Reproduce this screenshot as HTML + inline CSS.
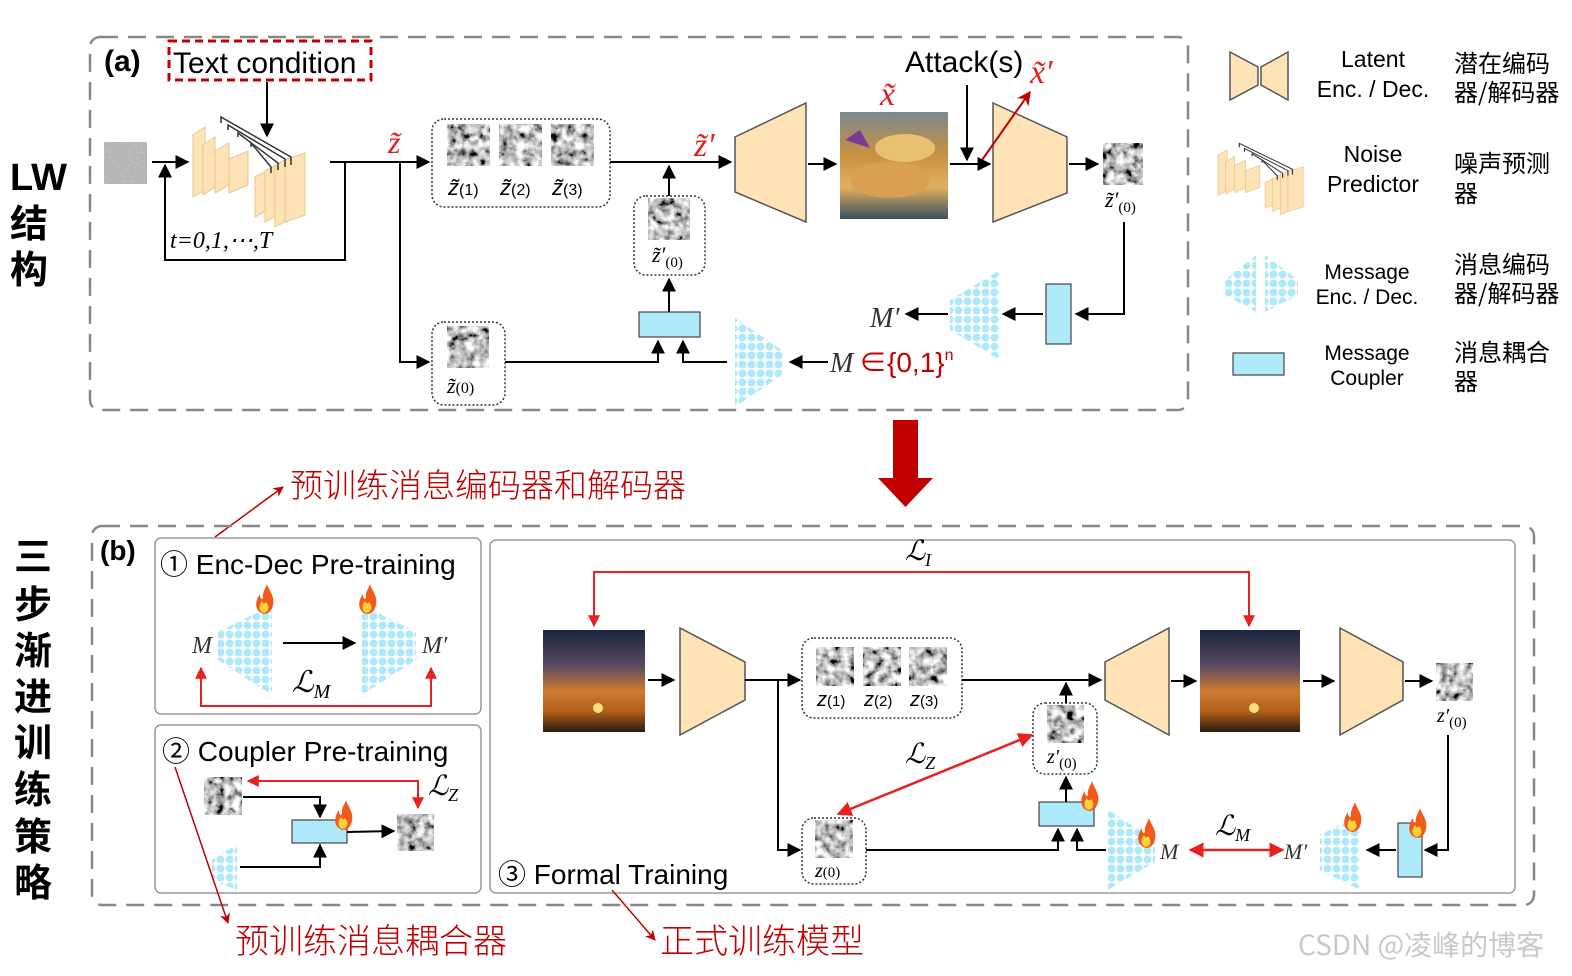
<!DOCTYPE html>
<html><head><meta charset="utf-8"><style>
html,body{margin:0;padding:0;background:#fff}
svg{display:block}
text{font-family:"Liberation Sans","Noto Sans CJK SC",sans-serif}
.it{font-family:"Liberation Serif","DejaVu Serif",serif;font-style:italic}
.cn{font-family:"Noto Sans CJK SC","WenQuanYi Zen Hei",sans-serif}
</style></head><body>
<svg width="1572" height="976" viewBox="0 0 1572 976" xmlns="http://www.w3.org/2000/svg">
<defs>
<marker id="ab" viewBox="0 0 10 10" refX="9" refY="5" markerWidth="7" markerHeight="7" orient="auto-start-reverse"><path d="M0,0 L10,5 L0,10 z" fill="#000"/></marker>
<marker id="ar" viewBox="0 0 10 10" refX="9" refY="5" markerWidth="6" markerHeight="6" orient="auto-start-reverse"><path d="M0,0 L10,5 L0,10 z" fill="#e82020"/></marker>
<marker id="ad" viewBox="0 0 10 10" refX="9" refY="5" markerWidth="7" markerHeight="7" orient="auto-start-reverse"><path d="M0,0 L10,5 L0,10 L3,5 z" fill="#c00000"/></marker>
<pattern id="dots" width="9" height="9" patternUnits="userSpaceOnUse"><circle cx="4.5" cy="4.5" r="4" fill="#aee8f9"/></pattern>
<filter id="nz" x="0" y="0" width="100%" height="100%"><feTurbulence type="fractalNoise" baseFrequency="0.12" numOctaves="3" seed="3"/><feColorMatrix type="matrix" values="0.33 0.33 0.33 0 0 0.33 0.33 0.33 0 0 0.33 0.33 0.33 0 0 0 0 0 0 1"/><feComponentTransfer><feFuncR type="linear" slope="3.5" intercept="-1.2"/><feFuncG type="linear" slope="3.5" intercept="-1.2"/><feFuncB type="linear" slope="3.5" intercept="-1.2"/></feComponentTransfer></filter>
<filter id="nz2" x="0" y="0" width="100%" height="100%"><feTurbulence type="fractalNoise" baseFrequency="0.5" numOctaves="1" seed="7"/><feColorMatrix type="matrix" values="0.33 0.33 0.33 0 0 0.33 0.33 0.33 0 0 0.33 0.33 0.33 0 0 0 0 0 0 1"/></filter>
<linearGradient id="sun" x1="0" y1="0" x2="0" y2="1"><stop offset="0" stop-color="#1b2540"/><stop offset="0.35" stop-color="#5a4a60"/><stop offset="0.6" stop-color="#d07a30"/><stop offset="0.8" stop-color="#b0601a"/><stop offset="1" stop-color="#2a1a10"/></linearGradient>
<linearGradient id="food" x1="0" y1="0" x2="0" y2="1"><stop offset="0" stop-color="#7a8a90"/><stop offset="0.4" stop-color="#c89040"/><stop offset="0.7" stop-color="#e0b060"/><stop offset="1" stop-color="#3a5060"/></linearGradient>
<g id="flame"><path d="M0,14 C-9,12 -10,2 -4,-6 C-4,-1 -2,0 -1,-2 C-2,-8 2,-12 3,-16 C5,-9 11,-4 9,5 C8,10 5,14 0,14 z" fill="#f05a1a"/><path d="M0,13 C-5,12 -6,6 -2,1 C-1,4 1,4 2,2 C5,5 6,11 0,13 z" fill="#ffd23a"/></g>
<g id="unet" fill="#fde3b5" stroke="#e8c88e" stroke-width="1">
<polygon points="0,20 12,12 12,75 0,82"/><polygon points="10,30 22,22 22,72 10,80"/><polygon points="22,36 36,28 36,70 22,78"/><polygon points="36,44 55,36 55,70 36,78"/>
<polygon points="62,62 75,55 75,95 62,102"/><polygon points="72,56 85,49 85,100 72,107"/><polygon points="82,50 96,43 96,105 82,112"/><polygon points="92,45 112,38 112,100 92,107"/>
<g fill="none" stroke="#333" stroke-width="1.5"><path d="M28,8 V2 L98,42 V50"/><path d="M35,15 V10 L92,44 V52"/><path d="M45,22 V18 L85,48 V55"/><path d="M58,32 V28 L78,52 V58"/></g>
</g>
</defs>

<text x="10" y="190" font-size="38" font-weight="bold">LW</text>
<text x="10" y="237" font-size="38" font-weight="bold" class="cn">结</text>
<text x="10" y="283" font-size="38" font-weight="bold" class="cn">构</text>
<g font-size="38" font-weight="bold" class="cn">
<text x="14" y="570">三</text><text x="14" y="618">步</text><text x="14" y="664">渐</text><text x="14" y="710">进</text><text x="14" y="756">训</text><text x="14" y="803">练</text><text x="14" y="850">策</text><text x="14" y="896">略</text>
</g>

<!-- (a) -->
<rect x="90" y="37" width="1098" height="373" rx="10" fill="none" stroke="#888" stroke-width="2.5" stroke-dasharray="18,10"/>
<text x="104" y="71" font-size="30" font-weight="bold">(a)</text>
<rect x="169" y="41" width="202" height="39" fill="none" stroke="#c00000" stroke-width="3" stroke-dasharray="8,5"/>
<text x="173" y="73" font-size="30">Text condition</text>
<line x1="267" y1="82" x2="267" y2="136" stroke="#000" stroke-width="2" marker-end="url(#ab)"/>
<rect x="104" y="142" width="43" height="42" fill="#999" filter="url(#nz2)" opacity="0.6"/>
<rect x="104" y="142" width="43" height="42" fill="#999" opacity="0.5"/>
<line x1="152" y1="162" x2="188" y2="162" stroke="#000" stroke-width="2" marker-end="url(#ab)"/>
<use href="#unet" x="193" y="115"/>
<polyline points="330,162 345,162 345,260 165,260 165,165" fill="none" stroke="#000" stroke-width="2" marker-end="url(#ab)"/>
<text x="170" y="248" font-size="24" class="it">t=0,1,⋯,T</text>
<line x1="345" y1="162" x2="429" y2="162" stroke="#000" stroke-width="2" marker-end="url(#ab)"/>
<text x="388" y="153" font-size="32" fill="#e02020" class="it">z̃</text>
<polyline points="400,162 400,362 429,362" fill="none" stroke="#000" stroke-width="2" marker-end="url(#ab)"/>
<rect x="432" y="119" width="178" height="88" rx="12" fill="none" stroke="#333" stroke-width="1.5" stroke-dasharray="2,2"/>
<rect x="447" y="124" width="43" height="42" fill="#777" filter="url(#nz)"/>
<rect x="499" y="124" width="43" height="42" fill="#555" filter="url(#nz)"/>
<rect x="551" y="124" width="43" height="42" fill="#666" filter="url(#nz)"/>
<g font-size="22" class="it"><text x="448" y="195">z̃<tspan font-size="16" font-style="normal">(1)</tspan></text><text x="500" y="195">z̃<tspan font-size="16" font-style="normal">(2)</tspan></text><text x="552" y="195">z̃<tspan font-size="16" font-style="normal">(3)</tspan></text></g>
<line x1="610" y1="162" x2="731" y2="162" stroke="#000" stroke-width="2" marker-end="url(#ab)"/>
<text x="694" y="156" font-size="34" fill="#e02020" class="it">z̃′</text>
<polygon points="735,137 806,103 806,222 735,192" fill="#fde3b5" stroke="#555" stroke-width="1.5"/>
<line x1="808" y1="164" x2="836" y2="164" stroke="#000" stroke-width="2" marker-end="url(#ab)"/>
<rect x="840" y="112" width="108" height="107" fill="url(#food)"/>
<ellipse cx="890" cy="180" rx="40" ry="18" fill="#d8a050"/><ellipse cx="905" cy="148" rx="30" ry="14" fill="#e8c070"/><path d="M845,140 l15,-10 l10,18 z" fill="#7a3a9a"/>
<text x="880" y="105" font-size="34" fill="#e02020" class="it">x̃</text>
<text x="905" y="72" font-size="30">Attack(s)</text>
<text x="1030" y="83" font-size="34" fill="#e02020" class="it">x̃′</text>
<line x1="967" y1="85" x2="967" y2="160" stroke="#000" stroke-width="2" marker-end="url(#ab)"/>
<line x1="950" y1="164" x2="990" y2="164" stroke="#000" stroke-width="2" marker-end="url(#ab)"/>
<polygon points="993,103 1067,137 1067,193 993,222" fill="#fde3b5" stroke="#555" stroke-width="1.5"/>
<line x1="982" y1="160" x2="1030" y2="92" stroke="#c00000" stroke-width="2" marker-end="url(#ad)"/>
<line x1="1069" y1="164" x2="1098" y2="164" stroke="#000" stroke-width="2" marker-end="url(#ab)"/>
<rect x="1103" y="143" width="40" height="42" fill="#aaa" filter="url(#nz)"/>
<text x="1105" y="207" font-size="22" class="it">z̃′<tspan font-size="15" font-style="normal" dy="5">(0)</tspan></text>
<polyline points="1124,222 1124,314 1076,314" fill="none" stroke="#000" stroke-width="2" marker-end="url(#ab)"/>
<rect x="1046" y="284" width="25" height="60" fill="#aeeaf9" stroke="#444" stroke-width="1.2"/>
<line x1="1043" y1="314" x2="1003" y2="314" stroke="#000" stroke-width="2" marker-end="url(#ab)"/>
<polygon points="950,300 1000,270 1000,360 950,330" fill="url(#dots)"/>
<line x1="948" y1="314" x2="906" y2="314" stroke="#000" stroke-width="2" marker-end="url(#ab)"/>
<text x="870" y="327" font-size="28" class="it" fill="#333">M′</text>
<text x="830" y="372" font-size="28" class="it" fill="#333">M</text>
<text x="859" y="372" font-size="28" fill="#c00000">∈{0,1}<tspan font-size="16" dy="-12">n</tspan></text>
<line x1="828" y1="362" x2="790" y2="362" stroke="#000" stroke-width="2" marker-end="url(#ab)"/>
<polygon points="735,318 782,350 782,375 735,407" fill="url(#dots)"/>
<polyline points="727,362 683,362 683,341" fill="none" stroke="#000" stroke-width="2" marker-end="url(#ab)"/>
<polyline points="505,362 658,362 658,341" fill="none" stroke="#000" stroke-width="2" marker-end="url(#ab)"/>
<rect x="639" y="312" width="61" height="25" fill="#aeeaf9" stroke="#444" stroke-width="1.2"/>
<line x1="669" y1="312" x2="669" y2="279" stroke="#000" stroke-width="2" marker-end="url(#ab)"/>
<rect x="634" y="196" width="71" height="79" rx="12" fill="none" stroke="#333" stroke-width="1.5" stroke-dasharray="2,2"/>
<rect x="648" y="198" width="42" height="42" fill="#aaa" filter="url(#nz)"/>
<text x="652" y="262" font-size="22" class="it">z̃′<tspan font-size="15" font-style="normal" dy="5">(0)</tspan></text>
<line x1="669" y1="196" x2="669" y2="166" stroke="#000" stroke-width="2" marker-end="url(#ab)"/>
<rect x="432" y="322" width="73" height="83" rx="12" fill="none" stroke="#333" stroke-width="1.5" stroke-dasharray="2,2"/>
<rect x="447" y="326" width="42" height="42" fill="#999" filter="url(#nz)"/>
<text x="447" y="393" font-size="22" class="it">z̃<tspan font-size="16" font-style="normal">(0)</tspan></text>

<!-- legend -->
<polygon points="1230,52 1258,67 1258,85 1230,100" fill="#fde3b5" stroke="#555" stroke-width="1.5"/>
<polygon points="1288,52 1261,67 1261,85 1288,100" fill="#fde3b5" stroke="#555" stroke-width="1.5"/>
<text x="1373" y="67" font-size="23" text-anchor="middle">Latent</text>
<text x="1373" y="97" font-size="23" text-anchor="middle">Enc. / Dec.</text>
<text x="1454" y="72" font-size="24" class="cn">潜在编码</text>
<text x="1454" y="101" font-size="24" class="cn">器/解码器</text>
<use href="#unet" transform="translate(1218,142) scale(0.76,0.65)"/>
<text x="1373" y="162" font-size="23" text-anchor="middle">Noise</text>
<text x="1373" y="192" font-size="23" text-anchor="middle">Predictor</text>
<text x="1454" y="172" font-size="24" class="cn">噪声预测</text>
<text x="1454" y="202" font-size="24" class="cn">器</text>
<polygon points="1225,280 1256,255 1256,312 1225,295" fill="url(#dots)"/>
<polygon points="1265,255 1298,280 1298,295 1265,312" fill="url(#dots)"/>
<text x="1367" y="279" font-size="21" text-anchor="middle">Message</text>
<text x="1367" y="304" font-size="21" text-anchor="middle">Enc. / Dec.</text>
<text x="1454" y="273" font-size="24" class="cn">消息编码</text>
<text x="1454" y="302" font-size="24" class="cn">器/解码器</text>
<rect x="1233" y="353" width="51" height="22" fill="#aeeaf9" stroke="#444" stroke-width="1.2"/>
<text x="1367" y="360" font-size="21" text-anchor="middle">Message</text>
<text x="1367" y="385" font-size="21" text-anchor="middle">Coupler</text>
<text x="1454" y="361" font-size="24" class="cn">消息耦合</text>
<text x="1454" y="390" font-size="24" class="cn">器</text>

<rect x="893" y="420" width="25" height="58" fill="#c00000"/>
<polygon points="878,478 933,478 905.5,507" fill="#c00000"/>
<text x="290" y="497" font-size="33" fill="#c00000" class="cn" font-weight="300">预训练消息编码器和解码器</text>
<line x1="215" y1="537" x2="283" y2="487" stroke="#c00000" stroke-width="1.5" marker-end="url(#ad)"/>

<!-- (b) -->
<rect x="92" y="526" width="1442" height="379" rx="10" fill="none" stroke="#888" stroke-width="2.5" stroke-dasharray="18,10"/>
<text x="100" y="560" font-size="28" font-weight="bold">(b)</text>
<rect x="155" y="538" width="326" height="176" rx="6" fill="none" stroke="#999" stroke-width="1.5"/>
<rect x="155" y="725" width="326" height="168" rx="6" fill="none" stroke="#999" stroke-width="1.5"/>
<rect x="490" y="540" width="1025" height="353" rx="6" fill="none" stroke="#999" stroke-width="1.5"/>

<text x="160" y="574" font-size="28">① Enc-Dec Pre-training</text>
<text x="192" y="653" font-size="24" class="it" fill="#333">M</text>
<polygon points="218,632 272,605 272,695 218,660" fill="url(#dots)"/>
<use href="#flame" x="264" y="600"/>
<line x1="283" y1="643" x2="355" y2="643" stroke="#000" stroke-width="2" marker-end="url(#ab)"/>
<polygon points="362,605 416,632 416,660 362,695" fill="url(#dots)"/>
<use href="#flame" x="367" y="600"/>
<text x="422" y="653" font-size="24" class="it" fill="#333">M′</text>
<polyline points="201,668 201,706 431,706 431,668" fill="none" stroke="#e82020" stroke-width="2" marker-start="url(#ar)" marker-end="url(#ar)"/>
<text x="292" y="692" font-size="30" class="it">ℒ<tspan font-size="20" dy="6">M</tspan></text>

<text x="162" y="761" font-size="28">② Coupler Pre-training</text>
<rect x="204" y="777" width="38" height="38" fill="#555" filter="url(#nz)"/>
<polyline points="418,782 418,781 248,781" fill="none" stroke="#e82020" stroke-width="2" marker-end="url(#ar)"/>
<line x1="418" y1="781" x2="418" y2="808" stroke="#e82020" stroke-width="2" marker-end="url(#ar)"/>
<text x="428" y="795" font-size="28" class="it">ℒ<tspan font-size="18" dy="6">Z</tspan></text>
<polyline points="243,797 320,797 320,817" fill="none" stroke="#000" stroke-width="2" marker-end="url(#ab)"/>
<rect x="292" y="820" width="55" height="23" fill="#aeeaf9" stroke="#444" stroke-width="1.2"/>
<use href="#flame" x="343" y="816"/>
<line x1="347" y1="832" x2="394" y2="831" stroke="#000" stroke-width="2" marker-end="url(#ab)"/>
<rect x="397" y="814" width="37" height="37" fill="#555" filter="url(#nz)"/>
<polygon points="212,860 237,844 237,890 212,880" fill="url(#dots)"/>
<polyline points="240,867 320,867 320,845" fill="none" stroke="#000" stroke-width="2" marker-end="url(#ab)"/>

<rect x="543" y="630" width="102" height="102" fill="url(#sun)"/>
<circle cx="598" cy="708" r="5" fill="#ffe080"/>
<line x1="648" y1="680" x2="674" y2="680" stroke="#000" stroke-width="2" marker-end="url(#ab)"/>
<polygon points="680,628 745,662 745,700 680,735" fill="#fde3b5" stroke="#555" stroke-width="1.5"/>
<line x1="745" y1="680" x2="800" y2="680" stroke="#000" stroke-width="2" marker-end="url(#ab)"/>
<polyline points="778,680 778,850 800,850" fill="none" stroke="#000" stroke-width="2" marker-end="url(#ab)"/>
<rect x="802" y="638" width="160" height="80" rx="12" fill="none" stroke="#333" stroke-width="1.5" stroke-dasharray="2,2"/>
<rect x="816" y="647" width="38" height="39" fill="#444" filter="url(#nz)"/>
<rect x="863" y="647" width="38" height="39" fill="#555" filter="url(#nz)"/>
<rect x="909" y="647" width="38" height="39" fill="#888" filter="url(#nz)"/>
<g font-size="20" class="it"><text x="817" y="706">z<tspan font-size="15" font-style="normal">(1)</tspan></text><text x="864" y="706">z<tspan font-size="15" font-style="normal">(2)</tspan></text><text x="910" y="706">z<tspan font-size="15" font-style="normal">(3)</tspan></text></g>
<line x1="962" y1="680" x2="1101" y2="680" stroke="#000" stroke-width="2" marker-end="url(#ab)"/>
<polygon points="1105,662 1169,628 1169,735 1105,700" fill="#fde3b5" stroke="#555" stroke-width="1.5"/>
<line x1="1171" y1="681" x2="1196" y2="681" stroke="#000" stroke-width="2" marker-end="url(#ab)"/>
<rect x="1200" y="630" width="100" height="102" fill="url(#sun)"/>
<circle cx="1254" cy="708" r="5" fill="#ffe080"/>
<line x1="1303" y1="681" x2="1334" y2="681" stroke="#000" stroke-width="2" marker-end="url(#ab)"/>
<polygon points="1340,628 1403,662 1403,700 1340,735" fill="#fde3b5" stroke="#555" stroke-width="1.5"/>
<line x1="1405" y1="681" x2="1432" y2="681" stroke="#000" stroke-width="2" marker-end="url(#ab)"/>
<rect x="1436" y="663" width="37" height="38" fill="#555" filter="url(#nz)"/>
<text x="1437" y="722" font-size="20" class="it">z′<tspan font-size="15" font-style="normal" dy="5">(0)</tspan></text>
<polyline points="1448,735 1448,850 1425,850" fill="none" stroke="#000" stroke-width="2" marker-end="url(#ab)"/>
<rect x="1398" y="823" width="24" height="54" fill="#aeeaf9" stroke="#444" stroke-width="1.2"/>
<use href="#flame" x="1417" y="824"/>
<line x1="1396" y1="850" x2="1367" y2="850" stroke="#000" stroke-width="2" marker-end="url(#ab)"/>
<polygon points="1320,835 1360,815 1360,890 1320,870" fill="url(#dots)"/>
<use href="#flame" x="1352" y="818"/>
<text x="1284" y="859" font-size="22" class="it" fill="#333">M′</text>
<line x1="1190" y1="850" x2="1283" y2="850" stroke="#e82020" stroke-width="2.5" marker-start="url(#ar)" marker-end="url(#ar)"/>
<text x="1215" y="835" font-size="28" class="it">ℒ<tspan font-size="18" dy="6">M</tspan></text>
<text x="1160" y="859" font-size="22" class="it" fill="#333">M</text>
<polygon points="1108,810 1155,840 1155,862 1108,890" fill="url(#dots)"/>
<use href="#flame" x="1146" y="834"/>
<polyline points="1106,850 1077,850 1077,829" fill="none" stroke="#000" stroke-width="2" marker-end="url(#ab)"/>
<polyline points="866,850 1058,850 1058,829" fill="none" stroke="#000" stroke-width="2" marker-end="url(#ab)"/>
<rect x="1039" y="802" width="55" height="24" fill="#aeeaf9" stroke="#444" stroke-width="1.2"/>
<use href="#flame" x="1089" y="797"/>
<line x1="1066" y1="802" x2="1066" y2="777" stroke="#000" stroke-width="2" marker-end="url(#ab)"/>
<rect x="1033" y="703" width="64" height="71" rx="12" fill="none" stroke="#333" stroke-width="1.5" stroke-dasharray="2,2"/>
<rect x="1047" y="705" width="37" height="38" fill="#444" filter="url(#nz)"/>
<text x="1047" y="763" font-size="20" class="it">z′<tspan font-size="15" font-style="normal" dy="5">(0)</tspan></text>
<line x1="1066" y1="703" x2="1066" y2="683" stroke="#000" stroke-width="2" marker-end="url(#ab)"/>
<rect x="802" y="818" width="64" height="66" rx="12" fill="none" stroke="#333" stroke-width="1.5" stroke-dasharray="2,2"/>
<rect x="815" y="820" width="38" height="38" fill="#444" filter="url(#nz)"/>
<text x="815" y="877" font-size="20" class="it">z<tspan font-size="15" font-style="normal">(0)</tspan></text>
<line x1="838" y1="814" x2="1032" y2="735" stroke="#e82020" stroke-width="2.5" marker-start="url(#ar)" marker-end="url(#ar)"/>
<text x="905" y="763" font-size="28" class="it">ℒ<tspan font-size="18" dy="6">Z</tspan></text>
<polyline points="594,626 594,572 1249,572 1249,626" fill="none" stroke="#e82020" stroke-width="2" marker-start="url(#ar)" marker-end="url(#ar)"/>
<text x="905" y="560" font-size="28" class="it">ℒ<tspan font-size="18" dy="6">I</tspan></text>
<text x="498" y="884" font-size="28">③ Formal Training</text>

<line x1="175" y1="767" x2="228" y2="923" stroke="#c00000" stroke-width="1.5" marker-end="url(#ad)"/>
<text x="235" y="953" font-size="34" fill="#c00000" class="cn" font-weight="300">预训练消息耦合器</text>
<line x1="612" y1="890" x2="655" y2="940" stroke="#c00000" stroke-width="1.5" marker-end="url(#ad)"/>
<text x="660" y="953" font-size="34" fill="#c00000" class="cn" font-weight="300">正式训练模型</text>
<text x="1298" y="955" font-size="28" fill="#c8c8c8" class="cn">CSDN @凌峰的博客</text>
</svg>
</body></html>
